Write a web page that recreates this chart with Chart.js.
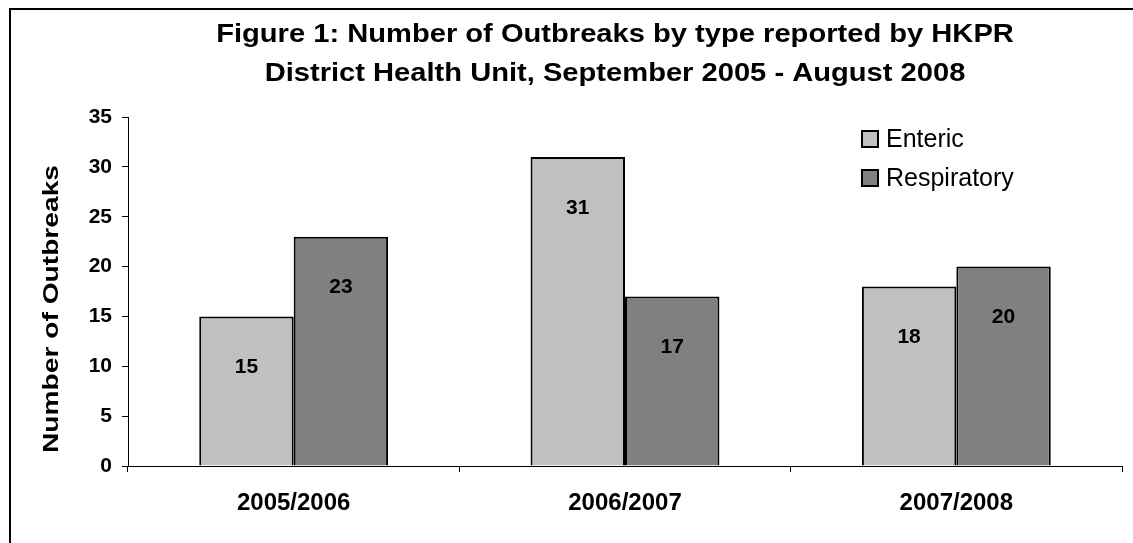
<!DOCTYPE html>
<html lang="en">
<head>
<meta charset="UTF-8">
<title>Figure 1: Outbreaks by type – HKPR</title>
<script src="https://cdn.jsdelivr.net/npm/chart.js"></script>
<style>
body{margin:0;background:#fff}
.wrap{position:relative;width:1133px;height:543px;overflow:hidden}
.frame{position:absolute;left:9px;top:8px;width:1200px;height:600px;border-top:2px solid #000;border-left:2px solid #000;pointer-events:none}
canvas{display:block}
</style>
</head>
<body>
<div class="wrap">
  <canvas id="chart" width="1133" height="543"></canvas>
  <div class="frame"></div>
</div>

<script>
/* --- Datos --- */
const seasons=['2005/2006','2006/2007','2007/2008'];
const enteric=[15,31,18];
const respiratory=[23,17,20];
const titleLines=['Figure 1: Number of Outbreaks by type reported by HKPR','District Health Unit, September 2005 - August 2008'];
const yTitle='Number of Outbreaks';

const FONT='Arial, "Liberation Sans", Helvetica, sans-serif';

/* --- Título centrado sobre el área del gráfico (algo ensanchado, como el original) --- */
const titlePlugin={
  id:'topTitle',
  afterDraw(chart){
    const ctx=chart.ctx, a=chart.chartArea;
    const cx=(a.left+a.right)/2-10;
    ctx.save();
    ctx.font='bold 26px '+FONT; ctx.fillStyle='#000';
    ctx.textAlign='center'; ctx.textBaseline='middle';
    titleLines.forEach((t,i)=>{
      ctx.save(); ctx.translate(cx,35+i*39); ctx.scale(1.12,1);
      ctx.fillText(t,0,0); ctx.restore();
    });
    ctx.restore();
  }
};

/* --- Título del eje Y --- */
const yTitlePlugin={
  id:'yTitle',
  afterDraw(chart){
    const ctx=chart.ctx;
    ctx.save();
    ctx.font='bold 22px '+FONT; ctx.fillStyle='#000';
    ctx.textAlign='center'; ctx.textBaseline='middle';
    const k=288/ctx.measureText(yTitle).width;
    ctx.translate(52,309); ctx.rotate(-Math.PI/2); ctx.scale(k,1);
    ctx.fillText(yTitle,0,0);
    ctx.restore();
  }
};

/* --- Etiquetas de valor dentro de las barras --- */
const valuePlugin={
  id:'values',
  afterDatasetsDraw(chart){
    const ctx=chart.ctx;
    ctx.save();
    ctx.font='bold 21px '+FONT; ctx.fillStyle='#000';
    ctx.textAlign='center'; ctx.textBaseline='middle';
    chart.data.datasets.forEach((ds,i)=>{
      chart.getDatasetMeta(i).data.forEach((bar,j)=>{
        ctx.fillText(ds.data[j],bar.x,bar.y+51);
      });
    });
    ctx.restore();
  }
};

/* --- Leyenda dentro del área --- */
const legendPlugin={
  id:'innerLegend',
  afterDraw(chart){
    const ctx=chart.ctx, a=chart.chartArea;
    const x=a.right-260, y0=a.top+22;
    ctx.save();
    ctx.font='25px '+FONT; ctx.textBaseline='middle'; ctx.textAlign='left';
    chart.data.datasets.forEach((ds,i)=>{
      const y=y0+i*39;
      ctx.fillStyle=ds.backgroundColor; ctx.fillRect(x,y-8,16,16);
      ctx.strokeStyle='#000'; ctx.lineWidth=2; ctx.strokeRect(x,y-8,16,16);
      ctx.fillStyle='#000'; ctx.fillText(ds.label,x+24,y+1);
    });
    ctx.restore();
  }
};

new Chart(document.getElementById('chart'),{
  type:'bar',
  data:{labels:seasons,
        datasets:[
          {label:'Enteric',data:enteric,backgroundColor:'#c0c0c0',borderColor:'#000',borderWidth:2},
          {label:'Respiratory',data:respiratory,backgroundColor:'#808080',borderColor:'#000',borderWidth:2}]},
  options:{
    responsive:false,animation:false,
    categoryPercentage:0.57,barPercentage:1.0,
    layout:{padding:{top:117,left:10,right:11,bottom:0}},
    plugins:{legend:{display:false},tooltip:{enabled:false},title:{display:false}},
    scales:{
      x:{grid:{drawOnChartArea:false,drawTicks:true,tickLength:6,color:'#000'},
         border:{color:'#000',width:1},
         ticks:{color:'#000',padding:17,font:{family:FONT,size:24,weight:'bold'}},
         afterFit:s=>{s.height=77;}},
      y:{min:0,max:35,
         grid:{drawOnChartArea:false,drawTicks:true,tickLength:6,color:'#000'},
         border:{color:'#000',width:1},
         ticks:{stepSize:5,color:'#000',padding:10,font:{family:FONT,size:21,weight:'bold'}},
         afterFit:s=>{s.width=118;}}
    }
  },
  plugins:[titlePlugin,yTitlePlugin,valuePlugin,legendPlugin]
});
</script>
</body>
</html>
